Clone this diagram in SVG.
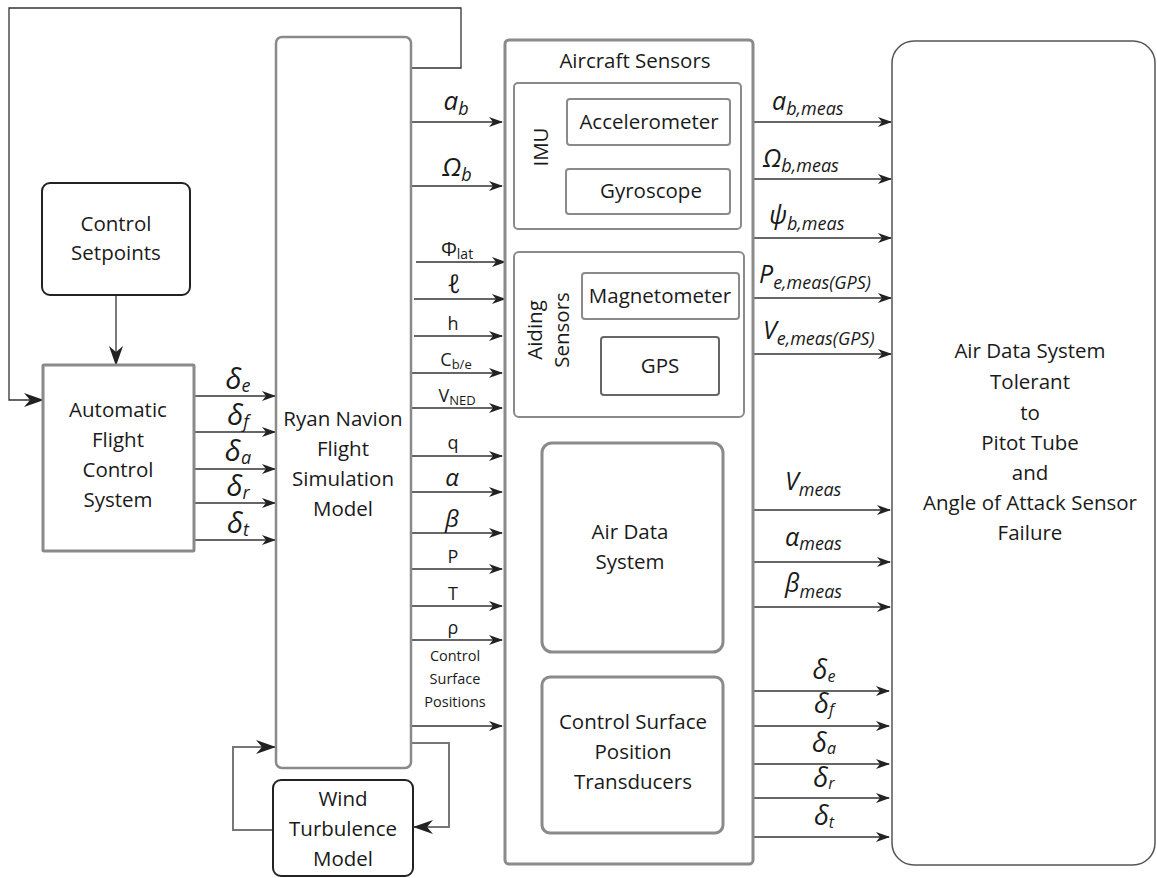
<svg xmlns="http://www.w3.org/2000/svg" width="1157" height="878" viewBox="0 0 1157 878">
<style>
text{font-family:"Open Sans","Liberation Sans",sans-serif;fill:#1a1a1a}
.t{font-size:20.5px;text-anchor:middle}
.s{font-size:18px;text-anchor:middle}
.g{font-size:26px;font-style:italic;text-anchor:middle}
.d{font-size:29px;font-style:italic;text-anchor:middle}
.dr{font-size:27px;font-style:italic;text-anchor:middle}
.m{font-size:25px;font-style:italic}
.sub{font-size:18px}
.sb{font-size:16px}
.ss{font-size:13px}
.gray{fill:#fff;stroke:#8a8a8a;stroke-width:2.5}
.grayt{fill:#fff;stroke:#8a8a8a;stroke-width:3}
.blk{fill:#fff;stroke:#222;stroke-width:2}
.c{fill:none;stroke:#333;stroke-width:1.3}
.cg{fill:none;stroke:#777;stroke-width:2}
</style>
<defs>
<marker id="ar" markerWidth="14" markerHeight="10" refX="13" refY="5" orient="auto" markerUnits="userSpaceOnUse">
<path d="M0,0 L14,5 L0,10 L4,5 z" fill="#222"/>
</marker>
<marker id="arb" markerWidth="20" markerHeight="14" refX="19" refY="7" orient="auto" markerUnits="userSpaceOnUse">
<path d="M0,0 L20,7 L0,14 L6,7 z" fill="#222"/>
</marker>
</defs>
<rect width="1157" height="878" fill="#fff"/>

<g id="connectors">
<polyline class="c" points="411,68 461,68 461,8 9,8 9,400 43,400" marker-end="url(#arb)"/>
<line class="c" x1="116" y1="295" x2="116" y2="365" marker-end="url(#arb)"/>
<line class="c" x1="194" y1="396" x2="275" y2="396" marker-end="url(#ar)"/>
<line class="c" x1="194" y1="432" x2="275" y2="432" marker-end="url(#ar)"/>
<line class="c" x1="194" y1="469" x2="275" y2="469" marker-end="url(#ar)"/>
<line class="c" x1="194" y1="503" x2="275" y2="503" marker-end="url(#ar)"/>
<line class="c" x1="194" y1="540" x2="275" y2="540" marker-end="url(#ar)"/>
<line class="c" x1="411" y1="122" x2="502" y2="122" marker-end="url(#ar)"/>
<line class="c" x1="411" y1="186" x2="502" y2="186" marker-end="url(#ar)"/>
<line class="c" x1="416" y1="262" x2="505" y2="262" marker-end="url(#ar)"/>
<line class="c" x1="414" y1="299" x2="505" y2="299" marker-end="url(#ar)"/>
<line class="c" x1="414" y1="336" x2="502" y2="336" marker-end="url(#ar)"/>
<line class="c" x1="412" y1="373" x2="502" y2="373" marker-end="url(#ar)"/>
<line class="c" x1="412" y1="408" x2="502" y2="408" marker-end="url(#ar)"/>
<line class="c" x1="411" y1="456" x2="502" y2="456" marker-end="url(#ar)"/>
<line class="c" x1="411" y1="492" x2="502" y2="492" marker-end="url(#ar)"/>
<line class="c" x1="411" y1="533" x2="502" y2="533" marker-end="url(#ar)"/>
<line class="c" x1="411" y1="569" x2="502" y2="569" marker-end="url(#ar)"/>
<line class="c" x1="411" y1="606" x2="502" y2="606" marker-end="url(#ar)"/>
<line class="c" x1="411" y1="640" x2="502" y2="640" marker-end="url(#ar)"/>
<line class="c" x1="411" y1="726" x2="502" y2="726" marker-end="url(#ar)"/>
<polyline class="cg" points="273,830 233,830 233,747 275,747" marker-end="url(#arb)"/>
<polyline class="cg" points="411,743 449,743 449,827 414,827" marker-end="url(#arb)"/>
<line class="c" x1="753" y1="122" x2="891" y2="122" marker-end="url(#ar)"/>
<line class="c" x1="753" y1="179" x2="891" y2="179" marker-end="url(#ar)"/>
<line class="c" x1="753" y1="238" x2="891" y2="238" marker-end="url(#ar)"/>
<line class="c" x1="753" y1="298" x2="891" y2="298" marker-end="url(#ar)"/>
<line class="c" x1="753" y1="354" x2="891" y2="354" marker-end="url(#ar)"/>
<line class="c" x1="753" y1="510" x2="890" y2="510" marker-end="url(#ar)"/>
<line class="c" x1="753" y1="562" x2="890" y2="562" marker-end="url(#ar)"/>
<line class="c" x1="753" y1="607" x2="890" y2="607" marker-end="url(#ar)"/>
<line class="c" x1="753" y1="691" x2="889" y2="691" marker-end="url(#ar)"/>
<line class="c" x1="753" y1="726" x2="889" y2="726" marker-end="url(#ar)"/>
<line class="c" x1="753" y1="764" x2="889" y2="764" marker-end="url(#ar)"/>
<line class="c" x1="753" y1="798" x2="889" y2="798" marker-end="url(#ar)"/>
<line class="c" x1="753" y1="837" x2="889" y2="837" marker-end="url(#ar)"/>
</g>

<g id="labels">
<text class="d" x="238" y="389">δ<tspan class="sub" dy="3">e</tspan></text>
<text class="d" x="238" y="425">δ<tspan class="sub" dy="3">f</tspan></text>
<text class="d" x="238" y="461">δ<tspan class="sub" dy="3">a</tspan></text>
<text class="d" x="238" y="496">δ<tspan class="sub" dy="3">r</tspan></text>
<text class="d" x="238" y="533">δ<tspan class="sub" dy="3">t</tspan></text>

<text class="g" x="456" y="110">a<tspan class="sub" dy="5">b</tspan></text>
<text class="g" x="457" y="176">Ω<tspan class="sub" dy="5">b</tspan></text>
<text class="s" x="457" y="256" style="font-size:20px">Φ<tspan class="ss" dy="3" style="font-size:14px">lat</tspan></text>
<text class="g" x="454" y="293">ℓ</text>
<text class="s" x="453" y="330">h</text>
<text class="s" x="456" y="366">C<tspan class="ss" dy="3">b/e</tspan></text>
<text class="s" x="457" y="402">V<tspan class="ss" dy="3">NED</tspan></text>
<text class="s" x="453" y="449">q</text>
<text class="g" x="452" y="486" style="font-size:24px">α</text>
<text class="g" x="452" y="527" style="font-size:24px">β</text>
<text class="s" x="453" y="563">P</text>
<text class="s" x="453" y="600">T</text>
<text class="s" x="453" y="634">ρ</text>
<text style="font-size:14.5px;text-anchor:middle" x="455" y="661">Control</text>
<text style="font-size:14.5px;text-anchor:middle" x="455" y="684">Surface</text>
<text style="font-size:14.5px;text-anchor:middle" x="455" y="707">Positions</text>

<text class="m" x="772" y="110">a<tspan class="sub" dy="5">b,meas</tspan></text>
<text class="m" x="763" y="167">Ω<tspan class="sub" dy="5">b,meas</tspan></text>
<text class="m" x="769" y="224">ψ<tspan class="sub" dy="6">b,meas</tspan></text>
<text class="m" x="759" y="283">P<tspan class="sub" dy="6">e,meas(GPS)</tspan></text>
<text class="m" x="763" y="339">V<tspan class="sub" dy="6">e,meas(GPS)</tspan></text>
<text class="m" x="785" y="490">V<tspan class="sub" dy="6">meas</tspan></text>
<text class="m" x="785" y="546">α<tspan class="sub" dy="4">meas</tspan></text>
<text class="m" x="785" y="592">β<tspan class="sub" dy="6">meas</tspan></text>
<text class="dr" x="824" y="679">δ<tspan class="sb" dy="3">e</tspan></text>
<text class="dr" x="824" y="713">δ<tspan class="sb" dy="2">f</tspan></text>
<text class="dr" x="824" y="752">δ<tspan class="sb" dy="2">a</tspan></text>
<text class="dr" x="824" y="787">δ<tspan class="sb" dy="2">r</tspan></text>
<text class="dr" x="824" y="825">δ<tspan class="sb" dy="3">t</tspan></text>
</g>

<g id="setpoints">
<rect class="blk" x="42" y="183" width="148" height="112" rx="8"/>
<text class="t" x="116" y="231">Control</text>
<text class="t" x="116" y="260">Setpoints</text>
</g>

<g id="afcs">
<rect class="grayt" x="43" y="365" width="151" height="186" rx="1"/>
<text class="t" x="118" y="417">Automatic</text>
<text class="t" x="118" y="447">Flight</text>
<text class="t" x="118" y="477">Control</text>
<text class="t" x="118" y="507">System</text>
</g>

<g id="ryan">
<rect class="gray" x="276" y="37" width="135" height="731" rx="6"/>
<text class="t" x="343" y="426">Ryan Navion</text>
<text class="t" x="343" y="456">Flight</text>
<text class="t" x="343" y="486">Simulation</text>
<text class="t" x="343" y="516">Model</text>
</g>

<g id="wind">
<rect class="blk" x="273" y="780" width="140" height="96" rx="8"/>
<text class="t" x="343" y="806">Wind</text>
<text class="t" x="343" y="836">Turbulence</text>
<text class="t" x="343" y="866">Model</text>
</g>

<g id="sensors">
<rect class="grayt" x="505" y="40" width="248" height="824" rx="4"/>
<text class="t" x="635" y="68">Aircraft Sensors</text>
</g>

<g id="imu">
<rect class="gray" x="514" y="83" width="227" height="146" rx="4" style="stroke-width:2"/>
<text class="t" transform="translate(548,147) rotate(-90)">IMU</text>
</g>
<g id="accelerometer">
<rect class="gray" x="567" y="99" width="163" height="46" rx="3" style="stroke-width:2"/>
<text class="t" x="649" y="129">Accelerometer</text>
</g>
<g id="gyroscope">
<rect class="gray" x="566" y="169" width="164" height="45" rx="3" style="stroke-width:2"/>
<text class="t" x="651" y="198">Gyroscope</text>
</g>

<g id="aiding">
<rect class="gray" x="514" y="252" width="230" height="165" rx="5" style="stroke-width:2"/>
<text class="t" transform="translate(542,330) rotate(-90)">Aiding</text>
<text class="t" transform="translate(569,330) rotate(-90)">Sensors</text>
</g>
<g id="magnetometer">
<rect class="gray" x="582" y="273" width="157" height="46" rx="3" style="stroke-width:2"/>
<text class="t" x="660" y="303">Magnetometer</text>
</g>
<g id="gps">
<rect x="601" y="337" width="118" height="58" rx="3" fill="#fff" stroke="#666" stroke-width="2"/>
<text class="t" x="660" y="373">GPS</text>
</g>

<g id="airdata">
<rect class="grayt" x="542" y="443" width="181" height="209" rx="10"/>
<text class="t" x="630" y="539">Air Data</text>
<text class="t" x="630" y="569">System</text>
</g>

<g id="transducers">
<rect class="grayt" x="542" y="677" width="181" height="156" rx="8"/>
<text class="t" x="633" y="729">Control Surface</text>
<text class="t" x="633" y="759">Position</text>
<text class="t" x="633" y="789">Transducers</text>
</g>

<g id="tolerant">
<rect x="892" y="41" width="263" height="824" rx="22" fill="#fff" stroke="#555" stroke-width="1.5"/>
<text class="t" x="1030" y="358">Air Data System</text>
<text class="t" x="1030" y="389">Tolerant</text>
<text class="t" x="1030" y="420">to</text>
<text class="t" x="1030" y="450">Pitot Tube</text>
<text class="t" x="1030" y="480">and</text>
<text class="t" x="1030" y="510">Angle of Attack Sensor</text>
<text class="t" x="1030" y="540">Failure</text>
</g>
</svg>
